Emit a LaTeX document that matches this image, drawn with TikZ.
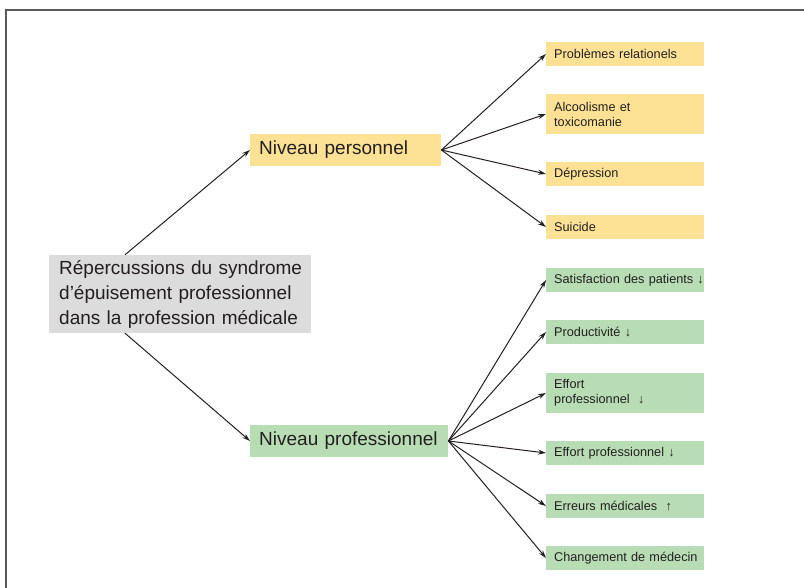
\documentclass[tikz,border=0pt]{standalone}
\usepackage{fontspec}
\setmainfont{Liberation Sans}
\usepackage{xcolor}
\usepackage{tikz}
\usetikzlibrary{arrows.meta}
\definecolor{jaune}{RGB}{253,226,150}
\definecolor{vert}{RGB}{184,221,180}
\definecolor{gris}{RGB}{220,220,221}
\definecolor{encre}{RGB}{35,31,32}
\tikzstyle{every node}=[anchor=west,align=left,text=encre,inner ysep=0pt]
\tikzstyle{racine}=[fill=gris,font=\fontsize{19}{25}\selectfont,text width=242pt,inner xsep=10pt,minimum height=78pt]
\tikzstyle{niveau}=[font=\fontsize{19}{23}\selectfont,inner xsep=9pt,minimum height=32pt]
\tikzstyle{feuille}=[font=\fontsize{12.7}{15}\selectfont,text width=142pt,inner xsep=8pt,minimum height=24pt]
\tikzstyle{fleche}=[draw=encre,line width=1pt,-{Stealth[length=8pt,width=5pt]}]

\begin{document}
\begin{tikzpicture}[x=1pt,y=-1pt]
		\useasboundingbox (0,0) rectangle (804,588);
		\draw[line width=1.3pt,draw=black!65] (6,588) -- (6,10) -- (804,10);
		\node[racine] (rep) at (49,294) {\mbox{Répercussions du syndrome}\\\mbox{d'épuisement professionnel}\\\mbox{dans la profession médicale}};
		\node[niveau,fill=jaune,text width=173pt] (perso) at (250,150) {Niveau personnel};
		\node[niveau,fill=vert,text width=180pt] (pro) at (250,441) {Niveau professionnel};
		\node[feuille,fill=jaune] (relat) at (546,54) {Problèmes relationels};
		\node[feuille,fill=jaune,minimum height=40pt] (alcool) at (546,114) {Alcoolisme et\\toxicomanie};
		\node[feuille,fill=jaune] (depr) at (546,174) {Dépression};
		\node[feuille,fill=jaune] (suic) at (546,227) {Suicide};
		\node[feuille,fill=vert] (satisf) at (546,280) {\mbox{Satisfaction des patients ↓}};
		\node[feuille,fill=vert] (product) at (546,332) {Productivité ↓};
		\node[feuille,fill=vert,minimum height=40pt] (effortA) at (546,393) {Effort\\professionnel\ \ ↓};
		\node[feuille,fill=vert] (effortB) at (546,453) {Effort professionnel ↓};
		\node[feuille,fill=vert] (erreurs) at (546,506) {Erreurs médicales\ \ ↑};
		\node[feuille,fill=vert] (medecin) at (546,558) {\mbox{Changement de médecin}};
		\draw[fleche] ([xshift=76pt]rep.north west) -- (perso.west);
		\draw[fleche] ([xshift=76pt]rep.south west) -- (pro.west);
		\foreach \f in {relat,alcool,depr,suic}
			\draw[fleche] (perso.east) -- (\f.west);
		\foreach \f in {satisf,product,effortA,effortB,erreurs,medecin}
			\draw[fleche] (pro.east) -- (\f.west);
\end{tikzpicture}
\end{document}
